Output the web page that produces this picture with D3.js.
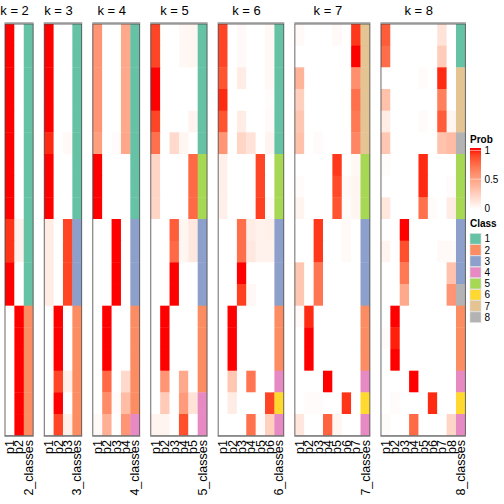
<!DOCTYPE html>
<html><head><meta charset="utf-8">
<script src="https://cdn.jsdelivr.net/npm/d3@7"></script>
<style>body{margin:0;background:#fff}text{font-family:"Liberation Sans",Arial,sans-serif}</style>
</head><body><svg id="c" width="504" height="504"></svg>
<script>
const ks = [2,3,4,5,6,7,8];
const classColors = ["#66C2A5","#FC8D62","#8DA0CB","#E78AC3","#A6D854","#FFD92F","#E5C494","#B3B3B3"];
const classLabels = ["1","2","3","4","5","6","7","8"];
const probTicks = [0, 0.5, 1];
const probTickLabels = ["0", "0.5", "1"];

const probs_k2 = [
[1,0],[1,0],[1,0],[1,0],[1,0],[1,0],[1,0],[1,0],[1,0],
[0.93,0.07],[0.93,0.07],[1,0],[1,0],
[0,1],[0,1],[0,1],[0,1],[0,1],[0,1]];
const classes_k2 = [1,1,1,1,1,1,1,1,1,1,1,1,1,2,2,2,2,2,2];

const probs_k3 = [
[1,0,0],[1,0,0],[1,0,0],[1,0,0],[1,0,0],[0.95,0,0.03],[1,0,0],[1,0,0],[1,0,0],
[0.1,0,0.88],[0.1,0,0.88],[0.1,0,0.88],[0.1,0,0.88],
[0,1,0],[0,1,0],[0,1,0],[0,0.88,0.08],[0,1,0],[0,0.88,0.08]];
const classes_k3 = [1,1,1,1,1,1,1,1,1,3,3,3,3,2,2,2,2,2,2];

const probs_k4 = [
[0.55,0,0,0.45],[0.55,0,0,0.45],[0.55,0,0,0.45],[0.55,0,0,0.45],[0.55,0,0,0.45],
[0.5,0,0.02,0.46],[1,0,0,0],[1,0,0,0],[1,0,0,0],
[0,0,1,0],[0,0,1,0],[0,0,1,0],[0,0,1,0],
[0,1,0,0],[0,1,0,0],[0,1,0,0],[0,0.75,0,0.2],[0,0.6,0.02,0.35],[0.03,0.42,0,0.55]];
const classes_k4 = [1,1,1,1,1,1,1,1,1,3,3,3,3,2,2,2,2,2,4];

const probs_k5 = [
[0.88,0,0,0.04,0.05],[0.88,0,0,0.04,0.05],[1,0,0,0,0],[1,0,0,0,0],[0.88,0,0,0,0.06],
[0.72,0,0.2,0.05,0],[0.22,0,0,0,0.75],[0.22,0,0,0,0.75],[0.22,0,0,0,0.75],
[0,0,0.8,0.05,0.12],[0,0,0.75,0.05,0.12],[0,0,1,0,0],[0,0,1,0,0],
[0,1,0,0,0],[0,1,0,0,0],[0,1,0,0,0],[0,0.55,0,0.45,0],[0,0.28,0,0.52,0.15],[0.06,0.06,0,0.85,0]];
const classes_k5 = [1,1,1,1,1,1,5,5,5,3,3,3,3,2,2,2,2,4,4];

const probs_k6 = [
[0.88,0,0.03,0,0,0.04],[0.88,0,0.03,0,0,0.04],[0.83,0,0.1,0,0,0.04],[0.95,0,0,0,0,0.02],
[0.83,0,0.1,0,0,0.03],[0.55,0,0.22,0.15,0,0.06],
[0.08,0,0,0,0.88,0],[0.08,0,0,0,0.88,0],[0.08,0,0,0,0.9,0.03],
[0,0,0.73,0.1,0.07,0.08],[0,0,0.73,0.12,0.07,0.07],[0,0,1,0,0,0],[0,0,0.9,0.04,0,0],
[0,1,0,0,0,0],[0,1,0,0,0,0],[0,1,0,0,0,0],[0,0.3,0,0.7,0,0],[0,0.1,0,0,0,0.88],[0,0,0,0.72,0.02,0.25]];
const classes_k6 = [1,1,1,1,1,1,5,5,5,3,3,3,3,2,2,2,4,6,4];

const probs_k7 = [
[0.03,0,0,0,0.03,0,0.92],[0,0,0,0,0,0,1],[0.4,0,0,0,0,0,0.58],[0.25,0,0,0,0,0,0.72],
[0.3,0,0,0,0,0,0.68],[0.33,0,0.02,0,0,0,0.62],
[0,0,0,0,0.92,0,0.04],[0.02,0,0,0,0.87,0.03,0.05],[0.06,0,0,0,0.83,0.02,0.05],
[0,0,0.92,0,0,0.03,0],[0,0,0.92,0,0,0.03,0],[0.3,0,0.7,0,0,0,0],[0.3,0,0.7,0,0,0,0],
[0.03,0.95,0,0,0,0,0],[0,1,0,0,0,0,0],[0,1,0,0,0,0,0],[0,0,0,1,0,0,0],
[0,0.02,0.02,0,0,0.93,0],[0.13,0,0,0.78,0.05,0,0]];
const classes_k7 = [7,7,7,7,7,7,5,5,5,3,3,3,3,2,2,2,4,6,4];

const probs_k8 = [
[0.8,0,0,0,0,0,0.15,0],[0.73,0,0,0,0,0,0.27,0],[0,0,0,0,0.02,0,0.95,0],[0.33,0,0,0,0,0,0.65,0],
[0.1,0,0,0,0.02,0,0.8,0.05],[0.3,0,0,0,0,0,0.32,0.36],
[0.02,0,0,0,0.95,0,0,0],[0,0,0,0,0.95,0,0,0.02],[0.13,0,0,0,0.72,0.02,0,0.1],
[0,0,1,0,0,0,0,0],[0.06,0,0.85,0,0,0,0.03,0.03],[0,0,0.68,0,0,0,0,0.32],[0,0,0.45,0,0,0,0,0.55],
[0,1,0,0,0,0,0,0],[0.02,0.97,0,0,0,0,0,0],[0,1,0,0,0,0,0,0],[0,0,0,1,0,0,0,0],
[0,0.02,0,0,0,0.95,0,0],[0.02,0,0,0.75,0,0,0,0.22]];
const classes_k8 = [1,1,7,7,7,8,5,5,5,3,3,3,8,2,2,2,4,6,4];

const allProbs = [probs_k2,probs_k3,probs_k4,probs_k5,probs_k6,probs_k7,probs_k8];
const allClasses = [classes_k2,classes_k3,classes_k4,classes_k5,classes_k6,classes_k7,classes_k8];

const svg = d3.select("#c");
const yTop = 24, yBottom = 435.7;
const colW = 9.375, gap = 11.1, x0 = 5;
const probColor = d3.scaleLinear().domain([0,1]).range(["#ffffff","#ff0000"]).interpolate(d3.interpolateLab);
const classColor = d3.scaleOrdinal().domain([1,2,3,4,5,6,7,8]).range(classColors);
const nRows = probs_k2.length;
const y = d3.scaleBand().domain(d3.range(nRows)).range([yTop, yBottom]);

let px = x0;
ks.forEach((k, i) => {
  const probs = allProbs[i], cls = allClasses[i];
  const cols = d3.range(k).map(j => "p" + (j+1)).concat([k + "_classes"]);
  const w = cols.length * colW;
  const x = d3.scaleBand().domain(cols).range([px, px + w]);
  const g = svg.append("g");
  probs.forEach((row, r) => {
    row.forEach((v, j) => {
      g.append("rect").attr("x", x(cols[j])).attr("y", y(r))
        .attr("width", x.bandwidth() + 0.4).attr("height", y.bandwidth() + 0.4)
        .attr("fill", probColor(v));
    });
    g.append("rect").attr("x", x(cols[k])).attr("y", y(r))
      .attr("width", x.bandwidth()).attr("height", y.bandwidth() + 0.4)
      .attr("fill", classColor(cls[r]));
  });
  g.append("rect").attr("x", px).attr("y", yTop).attr("width", w).attr("height", yBottom - yTop)
    .attr("fill", "none").attr("stroke", "#444").attr("stroke-width", 0.8);
  g.append("line").attr("x1", px - 0.5).attr("x2", px + w + 0.5).attr("y1", yTop - 0.8).attr("y2", yTop - 0.8)
    .attr("stroke", "#999").attr("stroke-width", 1.8);
  g.append("line").attr("x1", px - 0.5).attr("x2", px + w + 0.5).attr("y1", yBottom + 0.6).attr("y2", yBottom + 0.6)
    .attr("stroke", "#999").attr("stroke-width", 1.4);
  g.append("text").attr("x", px + w / 2 - 4.5).attr("y", 15).attr("text-anchor", "middle")
    .attr("font-size", 13).text("k = " + k);
  cols.forEach(c => {
    const cx = x(c) + x.bandwidth() / 2;
    g.append("text").attr("transform", `translate(${cx},440) rotate(-90)`)
      .attr("text-anchor", "end").attr("dy", "0.35em").attr("font-size", 12.5).text(c);
  });
  px += w + gap;
});

const lg = svg.append("g");
lg.append("text").attr("x", 470).attr("y", 143).attr("font-size", 10).attr("font-weight", "bold").text("Prob");
const defs = svg.append("defs");
const grad = defs.append("linearGradient").attr("id", "pg").attr("x1", 0).attr("y1", 1).attr("x2", 0).attr("y2", 0);
d3.range(0, 1.001, 0.1).forEach(t => grad.append("stop").attr("offset", t).attr("stop-color", probColor(t)));
const ly = d3.scaleLinear().domain([0, 1]).range([208, 150.5]);
lg.append("rect").attr("x", 470).attr("y", ly(1) - 2.5).attr("width", 11).attr("height", ly(0) - ly(1) + 4)
  .attr("fill", "url(#pg)");
probTicks.forEach((t, i) => {
  if (t > 0) {
    lg.append("line").attr("x1", 470).attr("x2", 481).attr("y1", ly(t)).attr("y2", ly(t))
      .attr("stroke", "#fff").attr("stroke-opacity", 0.6).attr("stroke-width", 0.8);
  }
  lg.append("text").attr("x", 484.5).attr("y", ly(t)).attr("dy", "0.35em").attr("font-size", 10).text(probTickLabels[i]);
});

lg.append("text").attr("x", 470).attr("y", 227).attr("font-size", 10).attr("font-weight", "bold").text("Class");
classLabels.forEach((c, i) => {
  const yy = 233.5 + i * 11.2;
  lg.append("rect").attr("x", 470).attr("y", yy).attr("width", 11).attr("height", 10.6)
    .attr("fill", classColors[i]).attr("stroke", "#ddd").attr("stroke-width", 0.6);
  lg.append("text").attr("x", 484.5).attr("y", yy + 5.3).attr("dy", "0.35em").attr("font-size", 10).text(c);
});
</script></body></html>
